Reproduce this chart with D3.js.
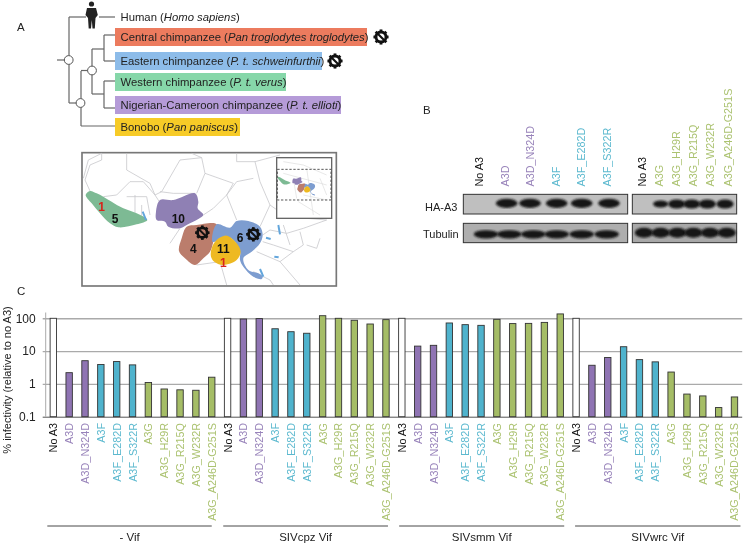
<!DOCTYPE html>
<html><head><meta charset="utf-8">
<script src="https://cdn.jsdelivr.net/npm/d3@7"></script>
<style>html,body{margin:0;padding:0;background:#fff}svg{display:block;filter:blur(0.3px)}text{font-family:"Liberation Sans",Arial,sans-serif;fill:#222}</style>
</head><body><div id="c"></div>
<script>
// ---- data ----
const mutants = ["No A3","A3D","A3D_N324D","A3F","A3F_E282D","A3F_S322R","A3G","A3G_H29R","A3G_R215Q","A3G_W232R","A3G_A246D-G251S"];
const groups = ["- Vif","SIVcpz Vif","SIVsmm Vif","SIVwrc Vif"];
const noVif = [100,2.2,5.1,3.9,4.8,3.8,1.1,0.7,0.66,0.64,1.6];
const cpzVif = [100,95,98,48,39,35,120,100,87,67,91];
const smmVif = [100,14.2,15,72,64,61,93,69,70,75,136];
const wrcVif = [100,3.7,6.4,13.6,5.5,4.7,2.3,0.49,0.43,0.19,0.40];
const yTicks = [0.1,1,10,100];
const blotLabels = ["No A3","A3D","A3D_N324D","A3F","A3F_E282D","A3F_S322R","No A3","A3G","A3G_H29R","A3G_R215Q","A3G_W232R","A3G_A246D-G251S"];
const species = [
 {t:"Central chimpanzee (",i:"Pan troglodytes troglodytes",e:")",c:"#ec7b5e"},
 {t:"Eastern chimpanzee (",i:"P. t. schweinfurthii",e:")",c:"#8dbce9"},
 {t:"Western chimpanzee (",i:"P. t. verus",e:")",c:"#86d7a9"},
 {t:"Nigerian-Cameroon chimpanzee (",i:"P. t. ellioti",e:")",c:"#b59bd8"},
 {t:"Bonobo (",i:"Pan paniscus",e:")",c:"#f7cb27"}];
const boxX=[367,322,286,341,240], boxY=[28,52,73,96,118], boxH=[18,18,18,18,18];
const regions = [
 {c:"#7dba94",p:[[137,150],[150,138],[170,145],[190,155],[215,170],[250,190],[290,205],[322,225],[290,238],[235,247],[210,235],[180,205],[155,175]]},
 {c:"#8f80b4",p:[[348,200],[360,165],[400,165],[465,145],[475,170],[473,190],[490,210],[475,222],[440,240],[420,250],[385,245],[375,230],[350,225]]},
 {c:"#bb7d6c",p:[[440,245],[470,240],[530,238],[520,290],[510,320],[490,340],[465,360],[435,340],[417,318],[425,280]]},
 {c:"#7d9dd0",p:[[530,238],[570,248],[590,228],[625,228],[660,245],[668,270],[660,295],[635,320],[610,340],[625,375],[655,385],[668,395],[665,402],[640,395],[610,365],[600,345],[600,320],[580,285],[560,275],[525,290],[517,290]]},
 {c:"#eeb920",p:[[515,310],[530,285],[560,272],[590,295],[602,320],[590,345],[550,360],[525,352],[513,335]]}];
const borders = [
 [[145,45],[185,25],[185,45],[150,60],[135,105],[150,138]],[[260,25],[260,75],[330,115],[345,150]],[[345,150],[365,140],[420,45],[485,38],[455,25]],
 [[485,38],[495,85],[470,145]],[[495,85],[580,115],[560,150],[590,225]],[[590,25],[590,50],[645,50],[660,110],[690,180],[660,245]],
 [[190,155],[230,150],[270,110],[310,110],[345,150],[358,170]],[[260,155],[320,155],[330,210]],[[285,150],[285,205]],[[305,180],[305,215]],
 [[490,210],[520,190],[560,150]],[[690,180],[740,215],[860,225]],[[668,270],[690,255],[740,265],[790,250],[860,225]],[[780,260],[790,300],[760,320],[700,300],[668,290]],
 [[470,360],[540,350],[560,420]],[[650,320],[720,350],[760,320]],[[640,380],[690,405],[700,420]],[[645,50],[720,30]],[[800,300],[830,310],[840,280]],[[720,350],[780,420]],
 [[560,150],[590,110],[640,100]],[[145,45],[130,100]],[[360,140],[400,145],[465,145]],[[730,240],[750,300]],[[420,250],[390,295]]];
const lakes = [[[308,200],[318,225]],[[715,240],[720,268]],[[678,278],[692,282]],[[660,372],[670,395]],[[703,335],[716,337]]];
const labelsMap = [{t:"1",x:185,y:187,c:"#d8241c"},{t:"5",x:225,y:221,c:"#111"},{t:"10",x:415,y:222,c:"#111"},{t:"4",x:460,y:311,c:"#111"},{t:"11",x:550,y:312,c:"#111"},{t:"1",x:550,y:353,c:"#d8241c"},{t:"6",x:600,y:278,c:"#111"}];
const haLeft=[290,360,440,515,597], haRight=[752,800,845,892,945];
const tubLeft=[228,298,370,440,515,590], tubRight=[702,752,802,850,900,950];

// ---- setup ----
const svg=d3.select("#c").append("svg").attr("width",744).attr("height",544);
const defs=svg.append("defs");
defs.append("filter").attr("id","b1").append("feGaussianBlur").attr("stdDeviation",0.35);
defs.append("filter").attr("id","b2").append("feGaussianBlur").attr("stdDeviation",1.1);
const palette=i=>i===0?"#fff":i<3?"#8f74b3":i<6?"#4fb3cd":"#a5bd66";
const textCol=i=>i===0?"#111":i<3?"#9883ba":i<6?"#5cb9cf":"#abc270";

// ---- panel letters ----
[["A",17,31],["B",423,114],["C",17,295]].forEach(d=>svg.append("text").attr("x",d[1]).attr("y",d[2]).attr("font-size",11.5).text(d[0]));

// ---- tree ----
const tree=svg.append("g").attr("fill","none").attr("stroke","#666").attr("stroke-width",1.2);
["M57,60H69","M69,17V103","M69,17H86","M99,17H115","M69,103H81","M81,71V126","M81,126H115","M81,70.5H92","M92,49V94","M92,49H104","M92,94H104","M104,35V61","M104,35H115","M104,61H115","M104,81V108","M104,81H115","M104,108H115"].forEach(d=>tree.append("path").attr("d",d));
[[68.7,60],[92,70.5],[80.5,103]].forEach(d=>svg.append("circle").attr("cx",d[0]).attr("cy",d[1]).attr("r",4.4).attr("fill","#fff").attr("stroke","#555").attr("stroke-width",1));
// human
const hum=svg.append("g").attr("fill","#222");
hum.append("circle").attr("cx",91.5).attr("cy",4).attr("r",2.6);
hum.append("path").attr("d","M87,8 L96,8 L97.8,15 L95.5,18 L94.8,28.5 L92.5,28.5 L91.8,20 L91,28.5 L88.7,28.5 L88,18 L85.5,15 Z");
svg.append("text").attr("x",120.5).attr("y",21).attr("font-size",11.3).html('Human (<tspan font-style="italic">Homo sapiens</tspan>)');
species.forEach((s,i)=>{
 svg.append("rect").attr("x",115).attr("y",boxY[i]).attr("width",boxX[i]-115).attr("height",boxH[i]).attr("fill",s.c);
 const t=svg.append("text").attr("x",120.5).attr("y",boxY[i]+13).attr("font-size",11.3);
 t.append("tspan").text(s.t); t.append("tspan").attr("font-style","italic").text(s.i); t.append("tspan").text(s.e);
});
function gear(g,x,y,r){
 const n=g.append("g").attr("transform",`translate(${x},${y})`);
 n.append("circle").attr("r",r*0.72).attr("fill","none").attr("stroke","#111").attr("stroke-width",r*0.42);
 d3.range(8).forEach(k=>n.append("rect").attr("x",-r*0.2).attr("y",-r*1.08).attr("width",r*0.4).attr("height",r*0.45).attr("fill","#111").attr("transform",`rotate(${k*45})`));
 n.append("line").attr("x1",-r*.5).attr("y1",-r*.5).attr("x2",r*.5).attr("y2",r*.5).attr("stroke","#111").attr("stroke-width",r*.3);
}
gear(svg,381,37,7); gear(svg,335,61,7);

// ---- map ----
const m=svg.append("g").attr("transform","translate(40,145) scale(0.33333)");
const ln=d3.line().curve(d3.curveCatmullRomClosed.alpha(0.5));
const pl=d3.line();
m.append("rect").attr("x",126).attr("y",23).attr("width",763).attr("height",400).attr("fill","#fff").attr("stroke","#777").attr("stroke-width",5);
borders.forEach(b=>m.append("path").attr("d",pl(b)).attr("fill","none").attr("stroke","#c8c8cc").attr("stroke-width",2.4));
regions.forEach(r=>m.append("path").attr("d",ln(r.p)).attr("fill",r.c).attr("filter","url(#b1)"));
lakes.forEach(w=>m.append("path").attr("d",pl(w)).attr("stroke","#63a6dc").attr("stroke-width",6).attr("fill","none"));
labelsMap.forEach(d=>m.append("text").attr("x",d.x).attr("y",d.y+12).attr("text-anchor","middle").attr("font-weight",700).style("fill",d.c).style("font-size","36px").text(d.t));
gear(m,487,263,20); gear(m,640,268,20);
// inset
m.append("rect").attr("x",710).attr("y",38).attr("width",165).attr("height",182).attr("fill","#fff").attr("stroke","#666").attr("stroke-width",4);
[[[730,50],[790,60],[860,90]],[[760,100],[770,160]],[[800,70],[820,210]],[[840,100],[860,150]],[[775,170],[840,210]],[[730,85],[860,120]],[[790,150],[860,165]]].forEach(b=>m.append("path").attr("d",pl(b)).attr("fill","none").attr("stroke","#ddd").attr("stroke-width",2));
const ins=m.append("g").attr("transform","translate(683,66) scale(0.213)");
regions.forEach(r=>ins.append("path").attr("d",ln(r.p)).attr("fill",r.c));
m.append("rect").attr("x",712).attr("y",73).attr("width",161).attr("height",92).attr("fill","none").attr("stroke","#555").attr("stroke-width",3).attr("stroke-dasharray","7,5");

// ---- blot ----
const bx=z=>410+z/3, by=z=>80+z/3;
const bl=svg.append("g");
[[160,653,343,402,"#bfbfbf"],[667,980,343,402,"#bfbfbf"],[160,653,430,488,"#aeaeae"],[667,980,430,488,"#a8a8a8"]].forEach(p=>bl.append("rect").attr("x",bx(p[0])).attr("y",by(p[2])).attr("width",(p[1]-p[0])/3).attr("height",(p[3]-p[2])/3).attr("fill",p[4]).attr("stroke","#333").attr("stroke-width",1));
const band=(c,y,w,h)=>bl.append("ellipse").attr("cx",bx(c)).attr("cy",by(y)).attr("rx",w).attr("ry",h).attr("fill","#161616").attr("filter","url(#b2)");
haLeft.forEach(c=>band(c,370,10.8,4.6));
haRight.forEach((c,i)=>band(c,372,i?8.6:7.6,i?4.5:3.4));
tubLeft.forEach(c=>band(c,463,12.2,4.2));
tubRight.forEach(c=>band(c,458,9.2,5));
const blotX=[208,285,360,437,513,590,697,748,798,848,900,955];
blotLabels.forEach((t,i)=>{const cl=mutants.indexOf(t);
 svg.append("text").attr("transform",`translate(${bx(blotX[i])+4},186.5) rotate(-90)`).attr("font-size",10.8).style("fill",textCol(cl)).text(t);});
svg.append("text").attr("x",425).attr("y",211).attr("font-size",11).text("HA-A3");
svg.append("text").attr("x",423).attr("y",238).attr("font-size",11).text("Tubulin");

// ---- bar chart ----
const keys=d3.range(44);
const all=[noVif,cpzVif,smmVif,wrcVif].flatMap((vals,g)=>vals.map((v,i)=>({g,i,v,k:g*mutants.length+i})));
const x=d3.scaleBand().domain(keys).range([45.4,742.4]);
const y=d3.scaleLog().domain([0.1,100]).range([416.7,318.3]);
const barW=6.4;
const cx=k=>x(k)+x.bandwidth()/2;
const axis=d3.axisLeft(y).tickValues(yTicks).tickFormat(d3.format("~g")).tickSize(0).tickPadding(10);
const ag=svg.append("g").attr("transform","translate(45.7,0)").call(axis);
ag.select(".domain").remove();
ag.selectAll("text").attr("font-size",12).style("font-family",'"Liberation Sans"');
ag.selectAll(".tick").append("line").attr("x1",-3).attr("x2",696.5).attr("stroke",d=>d===0.1?"#555":"#aaa").attr("stroke-width",d=>d===0.1?1:1.4);
svg.append("line").attr("x1",45.7).attr("x2",45.7).attr("y1",y(150)).attr("y2",y(0.1)).attr("stroke","#aaa").attr("stroke-width",1);
svg.append("g").selectAll("rect").data(all).join("rect")
 .attr("x",d=>cx(d.k)-barW/2).attr("width",barW)
 .attr("y",d=>y(d.v)).attr("height",d=>y(0.1)-y(d.v))
 .attr("fill",d=>palette(d.i)).attr("stroke","#333").attr("stroke-width",0.9);
svg.append("g").selectAll("text").data(all).join("text")
 .attr("transform",d=>`translate(${cx(d.k)+4},423) rotate(-90)`)
 .attr("text-anchor","end").attr("font-size",10.8).style("fill",d=>textCol(d.i)).text(d=>mutants[d.i]);
groups.forEach((g,i)=>{
 const x0=cx(i*11)-6+1.67*i, x1=cx(i*11+10)+2*i;
 svg.append("line").attr("x1",x0).attr("x2",x1).attr("y1",526).attr("y2",526).attr("stroke","#333").attr("stroke-width",0.9);
 svg.append("text").attr("x",(x0+x1)/2).attr("y",541).attr("text-anchor","middle").attr("font-size",11.5).text(g);
});
svg.append("text").attr("transform","translate(11,380) rotate(-90)").attr("text-anchor","middle").attr("font-size",11).text("% infectivity (relative to no A3)");
</script></body></html>
